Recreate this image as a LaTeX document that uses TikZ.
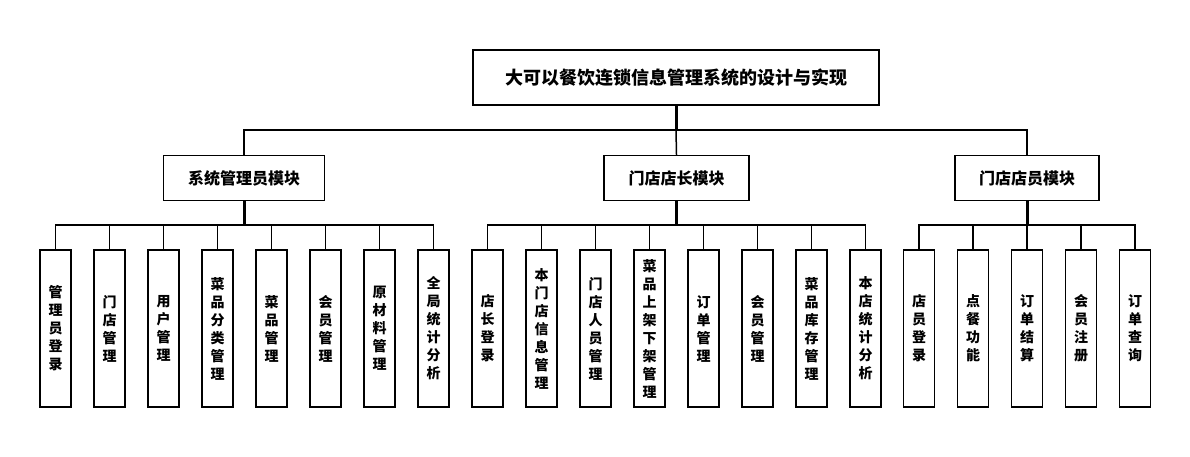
\documentclass[tikz,border=0pt]{standalone}
\usepackage{fontspec}
\setmainfont{Noto Sans CJK SC}
\usepackage{tikz}

\tikzset{
  box/.style={draw, line width=1.5pt, fill=white, inner sep=0pt, font=\bfseries},
  rootbox/.style={box, minimum width=406pt, minimum height=55pt, font={\bfseries\fontsize{18}{20}\selectfont}},
  modbox/.style={box, minimum height=45pt, font={\bfseries\fontsize{16}{18}\selectfont}},
  leaf/.style={box, minimum width=31pt, minimum height=157pt, align=center, font={\bfseries\fontsize{14}{18}\selectfont}},
  trunk/.style={line width=3pt},
  branch/.style={line width=1.5pt}
}

\begin{document}
\begin{tikzpicture}[x=1pt, y=-1pt]

% Canvas
\useasboundingbox (0,0) rectangle (1190,456);

% Top level
\node[rootbox] (root) at (676,77.5) {大可以餐饮连锁信息管理系统的设计与实现};

% Modules
\node[modbox, minimum width=161pt] (m1) at (244,178) {系统管理员模块};
\node[modbox, minimum width=145pt] (m2) at (676.5,178) {门店店长模块};
\node[modbox, minimum width=144pt] (m3) at (1027,178) {门店店员模块};

% Bus coordinates
\coordinate (topbus) at (676,130);
\coordinate (bus1) at (244,225);
\coordinate (bus2) at (676.5,225);
\coordinate (bus3) at (1027,225);

% Leaves of the admin module
\foreach \lab [count=\i] in {{管\\理\\员\\登\\录}, {门\\店\\管\\理}, {用\\户\\管\\理},
    {菜\\品\\分\\类\\管\\理}, {菜\\品\\管\\理}, {会\\员\\管\\理},
    {原\\材\\料\\管\\理}, {全\\局\\统\\计\\分\\析}}
  \node[leaf] (la\i) at ({55.5+54*(\i-1)},328.5) {\lab};

% Leaves of the manager module
\foreach \lab [count=\i] in {{店\\长\\登\\录}, {本\\门\\店\\信\\息\\管\\理}, {门\\店\\人\\员\\管\\理},
    {菜\\品\\上\\架\\下\\架\\管\\理}, {订\\单\\管\\理}, {会\\员\\管\\理},
    {菜\\品\\库\\存\\管\\理}, {本\\店\\统\\计\\分\\析}}
  \node[leaf] (lb\i) at ({487.5+54*(\i-1)},328.5) {\lab};

% Leaves of the clerk module
\foreach \lab [count=\i] in {{店\\员\\登\\录}, {点\\餐\\功\\能}, {订\\单\\结\\算},
    {会\\员\\注\\册}, {订\\单\\查\\询}}
  \node[leaf] (lc\i) at ({919+54*(\i-1)},328.5) {\lab};

% Root to modules
\draw[trunk] (root.south) -- (topbus);
\draw[branch] (m1.north) |- (topbus) -| (m3.north);
\draw[branch] (m2.north) -- (topbus);

% Modules to leaves
\draw[trunk] (m1.south) -- (bus1);
\draw[trunk] (m2.south) -- (bus2);
\draw[trunk] (m3.south) -- (bus3);
\draw[branch] (la1.north) |- (bus1) -| (la8.north);
\draw[branch] (lb1.north) |- (bus2) -| (lb8.north);
\draw[branch] (lc1.north) |- (bus3) -| (lc5.north);
\foreach \i in {2,...,7} {
  \draw[branch] (la\i.north) -- (la\i.north |- bus1);
  \draw[branch] (lb\i.north) -- (lb\i.north |- bus2);
}
\foreach \i in {2,3,4}
  \draw[branch] (lc\i.north) -- (lc\i.north |- bus3);

\end{tikzpicture}
\end{document}
